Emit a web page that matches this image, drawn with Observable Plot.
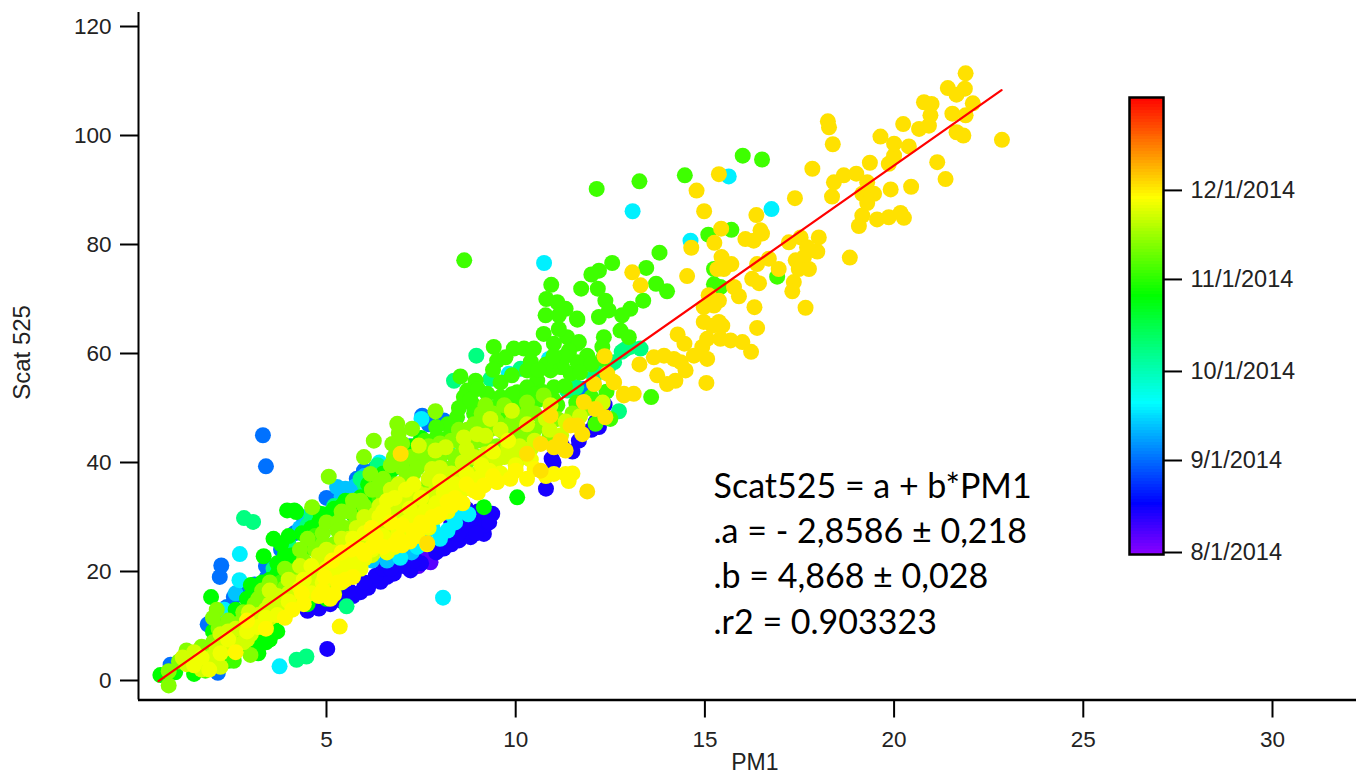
<!DOCTYPE html>
<html><head><meta charset="utf-8">
<script src="https://cdn.jsdelivr.net/npm/d3@7"></script>
<script src="https://cdn.jsdelivr.net/npm/@observablehq/plot@0.6"></script>
<style>
html,body{margin:0;padding:0;background:#fff;overflow:hidden;width:1356px;height:780px}
#wrap{position:relative;width:1356px;height:780px}
#wrap svg{display:block;background:transparent}
#bar{position:absolute;left:1100px;top:85px}
</style></head><body><div id="wrap"><div id="main"></div><div id="bar"></div></div>
<script>
// [PM1, Scat525] pairs, grouped by the date their colour encodes
const aug06 = [[7.75,21.7],[7.43,21],[7.6,22.3],[7.15,20.8],[12.2,49.2]];
const aug14 = [[5.02,5.8],[4.5,12.8],[4.8,13.2],[5.1,14],[5.4,14.6],[5.7,15.5],[5.9,16.2],[6.1,17],[6.43,18.1],[6.6,19],[6.78,19.6],[7.04,21],[7.22,20.2],[7.5,21.5],[7.9,23.5],[8.1,24.2],[8.3,25],[8.5,25.7],[8.81,26.3],[8.72,29.4],[9.16,26.9],[9.38,30.6],[9.1,30],[8.9,28],[8.6,28],[8.4,27],[8.1,26.5],[7.9,25],[9.0,31],[10.95,40.7],[10.8,35.2],[11.23,43],[11.67,44],[12.11,47.4],[12.35,50.6],[11.0,40],[11.5,42],[12.0,46],[8.7,31.5],[8.3,29],[6.3,19.2],[5.6,16.5],[6.9,22],[7.3,23],[6.5,20.5],[5.3,15.5],[6.0,18],[6.7,20.5],[7.3,22],[8.0,25.2],[8.5,27],[9.2,28.5],[8.95,27],[9.3,29],[4.9,14.5],[4.6,14],[10.9,38],[12.2,46.5]];
const sep01 = [[3.32,45],[3.4,39.3],[2.22,21.1],[2.18,19],[1.86,10.3],[2.13,1.4],[0.88,2.9],[1.2,4],[1.6,2.5],[3.43,19],[3.1,17.6],[2.55,15.3],[2.37,13.5],[2.9,16],[4.15,27],[4.4,28.8],[4.7,31],[5.0,33.5],[5.99,38.5],[6.3,39],[6.6,38],[7.53,48.6],[8.1,47.7],[8.4,47.5],[7.7,47],[5.3,34],[5.8,37],[4.55,29.8],[3.8,24],[3.4,21],[6.9,40.5],[7.2,43],[8.6,45],[9.3,46.5],[9.6,49],[9.9,51],[10.3,52],[11.8,53.5]];
const sep12 = [[5.28,35.5],[5.5,35.2],[5.75,35.6],[5.4,33.8],[6.0,37.5],[6.8,39],[7.0,24],[7.3,25],[6.5,24],[6.2,22],[6.6,22],[7.25,23.5],[4.3,28],[4.45,30],[2.6,16],[2.35,12.5],[8.6,44],[6.9,23]];
const sep18 = [[7.51,48],[6.4,40],[2.71,23.2],[2.7,18.4],[3.76,2.6],[8.08,15.2],[2.3,13],[7.4,24.5],[7.6,26],[8.0,26],[8.2,27.5],[8.4,29],[8.6,31],[8.75,30.5],[6.95,22.5],[9.82,56.3],[10.75,76.6],[10.88,59],[13.09,86.1],[14.62,80.7],[15.63,92.5],[16.76,86.5],[1.9,6],[7.8,28],[8.3,30.5]];
const oct08 = [[2.82,29.8],[3.06,29.1],[4.21,3.8],[4.47,4.4],[5.53,13.6],[8.96,59.6],[8.37,55],[9.33,55.3],[10.13,57.2],[12.73,49.4],[13.3,60.9],[13.03,61.2],[12.8,60.3],[12.6,58.4],[12.24,56.9],[12.07,55.7],[11.6,53.8],[11.36,53.2],[12.9,60.8],[12.45,57.5],[6.0,36],[5.6,33],[5.9,37],[6.3,38],[4.6,30],[4.9,27],[4.5,28.5],[5.2,32],[4.0,25],[3.6,20.5],[8.7,45],[9.5,47],[8.2,42],[6.35,39.5]];
const oct26 = [[0.61,1],[1.0,1.5],[1.5,1.2],[1.9,2.5],[2.1,4],[2.4,3.6],[2.9,7.5],[3.2,7],[3.5,7.5],[3.2,5],[3.34,22.8],[1.95,15.3],[3.6,26],[3.8,25],[4.0,26.5],[3.9,23],[4.0,21],[3.7,21.5],[3.3,18],[3.0,17.5],[3.5,18.5],[2.9,15],[2.6,13],[4.15,31.2],[3.96,31.2],[4.2,30.9],[4.84,30.6],[5.2,31.5],[5.5,33],[5.9,33.6],[5.3,30],[4.6,28],[4.35,27],[2.3,5.5],[2.7,6],[3.3,9.5],[3.55,10],[3.7,9],[6.1,36],[6.5,38],[10.04,33.6],[9.16,31.8],[5.2,16],[5.0,15],[4.5,14],[4.4,24],[4.1,23],[4.8,29],[5.0,30.5],[5.4,32],[5.7,30.5],[5.95,32],[6.1,34],[6.4,35.5],[6.7,38.5],[7.0,40.5],[7.3,43],[7.5,44.5],[7.1,42],[6.2,33],[4.6,24.5],[3.4,16],[3.0,14],[3.7,19.5],[2.5,11],[2.2,10],[2.0,9],[1.7,5],[2.4,5],[3.4,7],[3.1,6]];
const nov03 = [[8.64,77.1],[16.0,96.3],[16.51,95.6],[14.47,92.7],[13.27,91.6],[12.14,90.2],[15.09,81.8],[15.7,82.7],[13.8,78.5],[12.55,76.6],[12.2,75.2],[12.0,74.5],[13.45,75.7],[13.71,72.8],[14.0,71.4],[11.73,71.9],[12.17,71.9],[15.24,75.5],[15.24,72.7],[15.41,72.2],[16.91,74.1],[13.03,68.2],[13.37,69.7],[12.81,67],[12.37,69.7],[12.46,67.9],[12.2,66.7],[11.62,66.4],[11.32,68.2],[12.77,64.2],[12.99,63],[12.33,63],[12.29,61.2],[11.89,59.6],[11.62,61.8],[11.36,63],[11.4,59.9],[11.23,57.5],[11.45,56.3],[13.58,52],[10.94,72.6],[10.81,70],[11.1,69.4],[11.63,66.2],[10.79,67],[11.14,67],[10.74,63.6],[11.14,64.5],[11.67,62.1],[11.41,60.5],[11.01,61.8],[9.42,61.2],[9.95,60.9],[10.22,60.9],[10.48,60.9],[9.51,58.7],[9.73,59.3],[11.18,57.5],[11.63,58.4],[10.3,56.9],[8.54,55.8],[8.94,55],[9.6,54.7],[10.57,55],[10.92,56.9],[8.72,53.2],[9.25,52.6],[8.63,52],[8.85,50.8],[9.6,52],[10.04,52.9],[10.3,53.8],[11.01,53.8],[8.45,48.3],[12.11,47.1],[12.5,48],[8.2,47],[8.9,49],[9.4,50],[10.0,50.5],[10.6,51.5],[11.1,50.5],[9.0,46],[7.9,44.5],[7.6,44],[6.9,42],[7.2,39],[6.4,33],[6.8,36],[4.7,26.5],[3.8,18],[3.3,13],[1.8,1.8],[2.55,3.6],[7.5,41],[7.9,46.5],[8.2,44.5],[8.5,50],[8.8,51.5],[9.2,48.5],[9.6,48.5],[10.2,50],[10.7,53],[11.3,54],[8.0,43],[9.9,52.5],[10.8,58],[11.3,59.5],[10.4,58.5],[9.9,56],[9.4,57],[10.6,57],[12.0,58],[12.3,59],[11.0,59.5],[11.7,56.5],[11.0,51.5],[11.6,51],[12.0,52],[12.4,53],[10.5,52.5],[9.0,53.5]];
const nov12 = [[0.83,1.7],[1.1,3.5],[1.4,4.5],[1.3,5.5],[1.7,6.2],[2.0,7],[2.3,6.5],[2.5,8],[2.4,11],[2.1,13],[2.0,11.5],[2.7,10.5],[2.8,12.5],[3.1,14],[3.3,16.5],[3.6,14.5],[3.9,17],[4.1,20],[4.4,22],[4.7,24],[4.5,26],[4.9,27],[5.2,25],[5.0,29],[5.3,29],[5.6,31],[5.06,37.4],[5.9,33],[6.2,35],[6.5,37],[7.88,49.4],[6.87,47.1],[6.91,45.4],[6.25,44],[5.99,41],[6.52,36.4],[6.16,37.9],[6.74,43.4],[6.78,41],[7.22,41],[7.26,46.2],[7.0,39],[7.3,38],[7.7,43],[7.6,40],[8.0,41],[8.3,44],[8.5,46],[8.72,46],[8.9,47],[9.1,47],[9.4,49],[8.1,39],[8.4,41],[8.8,43],[9.2,44],[7.7,36],[8.2,37],[8.7,40],[9.5,47.5],[10.0,48],[10.5,49],[9.9,46],[10.2,45],[9.0,41],[9.5,43],[10.0,44],[10.5,46],[9.4,39.5],[10.74,52.3],[2.99,4.7],[0.83,-0.9],[4.62,31.8],[3.05,11.5],[2.15,9.5],[4.85,22],[5.5,28],[5.3,27.5],[5.8,29.5],[6.0,32],[6.3,31],[6.5,34],[6.8,35],[7.1,37],[7.4,39],[7.7,40],[8.0,43.5],[8.3,39],[8.6,43],[9.0,44],[9.3,46],[9.7,45.5],[7.0,43.5],[7.5,42],[6.7,39.5],[6.4,36],[5.4,31],[5.7,33],[4.9,25],[4.3,24],[3.9,20.5],[3.5,18],[3.2,15],[9.1,49],[9.9,47.5],[10.3,49],[10.7,47],[11.1,48],[11.5,49],[11.9,50],[10.9,45],[9.7,50.5],[10.3,51],[9.2,50.5]];
const nov22 = [[1.3,3],[1.7,2],[1.9,3.5],[1.2,4.2],[1.5,5.2],[2.1,6],[2.2,2.5],[2.5,5.8],[2.8,7],[2.2,8.5],[2.6,9.5],[2.4,9],[3.0,10],[3.2,12],[2.95,12.5],[3.4,13],[3.7,15.5],[3.5,16.5],[4.0,18.5],[4.2,15.5],[3.8,12.5],[4.4,16],[4.6,19],[4.3,21],[4.8,20],[5.1,22],[5.0,24],[4.7,17],[5.3,20],[5.5,23],[5.4,26],[5.7,24.5],[5.8,28],[6.1,26],[6.0,30],[6.3,29],[6.4,32],[6.6,27],[6.9,30],[6.7,33],[7.0,32],[7.2,35],[7.4,33],[6.9,36],[7.7,32],[7.9,35],[7.6,30],[8.2,33],[8.5,37],[8.0,39],[8.9,36],[8.7,42.5],[8.98,45.2],[9.2,44.9],[9.33,48],[8.63,44.6],[7.88,42.2],[8.15,42.8],[7.44,43.1],[7.79,38.8],[9.7,41],[10.1,43],[10.3,47],[10.8,48],[9.9,49.5],[9.6,46],[10.92,50.5],[11.32,47.5],[9.0,38],[9.5,36.5],[5.6,21],[5.2,17.5],[6.2,23],[6.6,25],[3.3,10.5],[3.5,14],[4.0,16],[4.5,20],[4.8,23],[5.2,23.5],[5.6,26],[5.9,26],[6.2,27],[6.5,28.5],[6.8,31],[7.1,33.5],[7.4,34.5],[7.7,37],[8.0,37],[8.3,38],[8.6,40],[8.9,41],[9.2,41.5],[9.5,40.5],[9.8,43],[6.3,30.5],[6.7,35],[7.3,31],[7.6,34],[8.1,36],[8.4,34.5],[5.5,25],[4.9,21.5],[4.2,18],[3.7,13.5],[2.9,7.5],[2.5,7],[2.0,4.5],[1.4,3.5],[3.0,8.5],[3.5,11.5],[10.2,41],[10.5,44],[10.9,46],[11.2,45],[9.9,42],[10.4,42.5],[12.3,51],[11.7,48.5]];
const nov26 = [[1.5,2.8],[1.9,2],[1.7,4.2],[2.2,5],[2.4,7.5],[2.9,9],[3.2,9.8],[3.4,11.5],[3.7,12],[4.0,14.5],[4.3,17],[4.6,16],[4.9,18],[4.6,21],[5.0,20.5],[5.4,18],[5.3,22],[5.6,21.5],[5.9,20.5],[5.7,26],[6.0,27],[6.2,24],[6.5,26.5],[6.8,24.5],[6.4,30],[6.9,27],[7.1,29],[7.4,30],[7.2,31.5],[7.7,28],[7.5,33.5],[7.9,30],[8.2,31],[7.1,35],[8.1,34.5],[8.4,36],[8.7,38],[9.1,39.5],[8.5,33.5],[9.4,42],[9.8,44],[8.0,36.5],[7.3,36],[6.6,33],[6.2,28],[5.8,23],[5.1,19.5],[4.4,18.5],[5.2,20.5],[5.5,20],[5.8,21.5],[6.0,22.3],[6.3,25.5],[6.6,23.5],[7.0,26.5],[7.3,28],[7.6,31],[7.9,32.5],[8.3,34],[8.6,35],[9.0,37],[9.3,38.5],[9.6,38],[10.0,39.5],[10.4,40.5],[6.5,31],[6.8,33.5]];
const nov29 = [[5.35,9.9],[2.6,5.2],[2.9,11],[3.4,9.5],[3.9,11.5],[4.1,13],[4.4,14],[4.8,15.5],[5.1,15],[4.9,16.5],[5.3,18],[5.5,18.5],[5.7,19],[5.15,22],[5.4,23.5],[5.65,24],[5.9,24],[6.2,24.5],[6.5,24.5],[6.8,25],[7.2,25.5],[7.66,25],[7.66,28.4],[7.0,24.8],[6.9,26],[7.3,27.5],[6.3,26.5],[7.0,28.5],[7.5,29],[8.0,30.5],[8.3,32],[8.6,32.5],[8.89,34.9],[9.16,35.8],[9.51,36.4],[9.86,37],[10.3,37],[11.01,37.9],[11.32,37.9],[6.2,28],[6.7,29],[5.2,15.8],[4.95,19],[4.35,16],[7.4,26.5],[6.0,23.2],[11.5,38],[11.4,36.6],[9.0,34.5],[8.2,32.8],[10.0,38.5],[10.5,38.8],[10.8,37.5],[9.4,37.5],[8.7,36],[8.4,33.5],[7.8,30]];
const dec02 = [[6.96,41.6],[10.66,38.5],[11.89,34.7],[12.35,59.5],[12.07,54.4],[12.42,56.3],[12.6,54.7],[12.86,52.3],[13.12,52.6],[11.8,51.1],[10.92,48.6],[12.37,48.3],[12.11,49.8],[11.45,46.8],[11.63,46.8],[11.76,45.2],[10.66,43.4],[11.18,44],[11.01,42.8],[11.32,42.2],[10.3,41.6],[12.59,54.8],[12.86,52.6],[13.27,58],[14.18,59],[13.92,59.6],[13.65,59.3],[14.36,58.4],[14.49,56.9],[13.74,56],[14.22,55],[14.0,54.4],[15.04,54.6],[14.28,63.5],[14.46,61.8],[15.06,62.7],[14.93,61.2],[15.41,62.7],[15.68,62.4],[15.99,62.1],[16.22,60.3],[14.71,59.6],[15.06,59],[14.97,65.8],[15.37,65.8],[15.2,65.1],[15.46,65.1],[16.38,64.7],[16.31,68.5],[14.97,68.5],[15.24,68.8],[15.1,70.7],[15.37,69.7],[15.77,72.2],[15.9,70.5],[16.25,73.7],[16.43,72.9],[14.53,74.2],[17.35,73.1],[17.31,71.4],[17.66,68.4],[15.44,77.7],[15.7,76.4],[15.33,75.5],[15.5,75.5],[16.38,76.4],[16.69,77.4],[16.95,75.5],[17.22,80.4],[17.53,81.3],[18.01,81.3],[17.97,78.7],[17.7,79.5],[17.4,77.1],[17.62,77.7],[17.75,75.5],[17.48,75.5],[18.83,77.6],[13.08,74.9],[13.3,72.5],[14.64,79.4],[15.43,82.9],[15.25,80.3],[16.47,82.6],[16.07,81],[16.29,80.7],[16.51,82],[16.36,85.4],[14.98,86.1],[17.38,88.5],[14.78,89.9],[15.37,92.9],[17.84,93.9],[18.25,102.6],[18.28,101.5],[18.38,98.4],[19,93],[18.67,92.7],[18.41,91.4],[18.36,88.8],[19.29,91.4],[19.47,89.3],[19.16,89.3],[19.29,87.6],[19.16,85.3],[19.07,83.4],[19.55,84.6],[19.86,85],[20.17,85.8],[20.26,84.9],[19.91,90.1],[20.45,90.6],[21.36,92],[21.14,95.1],[19.36,95],[19.86,94.8],[20,96.3],[20,98.5],[20.39,98],[19.64,99.8],[20.24,102.1],[20.66,101.2],[20.92,101.8],[20.96,103.7],[20.79,106.1],[20.99,105.8],[21.42,108.7],[21.87,108.6],[21.65,107.5],[21.89,111.4],[22.08,105.9],[21.54,104],[21.89,103.7],[21.65,100.6],[21.83,100],[22.85,99.2],[7.66,25.2]];

const groupDates = ["2014-08-06","2014-08-14","2014-09-01","2014-09-12","2014-09-18","2014-10-08","2014-10-26","2014-11-03","2014-11-12","2014-11-22","2014-11-26","2014-11-29","2014-12-02"];
const groupPoints = [aug06,aug14,sep01,sep12,sep18,oct08,oct26,nov03,nov12,nov22,nov26,nov29,dec02];

const rainbowDates = ["2014-08-01","2014-08-17","2014-09-20","2014-10-26","2014-11-28","2015-01-01"];
const rainbowColors = ["#8000ff","#0000ff","#00ffff","#00ff00","#ffff00","#ff0000"];
const legendTicks = ["2014-08-01","2014-09-01","2014-10-01","2014-11-01","2014-12-01"];
const xTicks = [5,10,15,20,25,30];
const yTicks = [0,20,40,60,80,100,120];
const fitA = -2.8586, fitB = 4.868;
const fitX = [0.56,22.84];
const fitLines = ["Scat525 = a + b*PM1",".a = - 2,8586 ± 0,218",".b = 4,868 ± 0,028",".r2 = 0.903323"];
const fitLineY = [35.4,27.2,18.9,10.5];

const ms = s => +new Date(s);
const colorOpt = {type:"linear", domain:rainbowDates.map(ms), range:rainbowColors, interpolate:"rgb"};
const rows = groupPoints.flatMap((pts,i)=>pts.map(([x,y])=>({x,y,t:ms(groupDates[i])})));
const xDom = [0.032,32.22], yDom = [-3.58,122.57];
const F = "'Liberation Sans',Arial,sans-serif";

document.getElementById("main").append(Plot.plot({
  width:1356,height:780,marginLeft:138,marginRight:0,marginTop:12,marginBottom:80.5,
  style:{fontFamily:F,background:"transparent",color:"#222"},
  x:{domain:xDom,label:null},y:{domain:yDom,label:null},color:colorOpt,
  marks:[
    Plot.dot(rows,{x:"x",y:"y",r:8,fill:"t",stroke:null}),
    Plot.line(fitX.map(x=>({x,y:fitA+fitB*x})),{x:"x",y:"y",stroke:"#ff0000",strokeWidth:2.2}),
    Plot.ruleY([yDom[0]],{stroke:"#000",strokeWidth:2.5}),
    Plot.ruleX([xDom[0]],{stroke:"#000",strokeWidth:2}),
    Plot.axisX({ticks:xTicks,tickSize:18,tickPadding:13,fontSize:22.5,label:null,stroke:"#000",strokeWidth:2,strokeOpacity:1,tickFormat:d=>d}),
    Plot.axisY({ticks:yTicks,tickSize:18,tickPadding:9,fontSize:22.5,label:null,stroke:"#000",strokeWidth:2,strokeOpacity:1,tickFormat:d=>d}),
    Plot.text(["PM1"],{x:()=>16.32,frameAnchor:"bottom",dy:70,fontSize:23,fill:"#222"}),
    Plot.text(["Scat 525"],{y:()=>60.2,frameAnchor:"left",textAnchor:"middle",dx:-116,rotate:-90,fontSize:24,fill:"#222"}),
    Plot.text(fitLines,{x:()=>15.23,y:(d,i)=>fitLineY[i],text:d=>d,textAnchor:"start",fontSize:34,fontFamily:"Lato",fill:"#000"})
  ]
}));

const days = d3.utcDay.range(new Date("2014-07-31"),new Date("2015-01-03"));
document.getElementById("bar").append(Plot.plot({
  width:256,height:480,marginLeft:29,marginRight:193,marginTop:12,marginBottom:11,
  style:{fontFamily:F,background:"transparent",color:"#222"},
  x:{domain:[0,1],axis:null},
  y:{type:"utc",domain:[new Date(ms("2014-08-01")-0.67*864e5),new Date(ms("2014-12-01")+31.3*864e5)],label:null},
  color:colorOpt,
  marks:[
    Plot.rect(days,{x1:()=>0,x2:()=>1,y1:d=>d,y2:d=>d3.utcDay.offset(d,1),fill:d=>+d,shapeRendering:"crispEdges",clip:true}),
    Plot.frame({stroke:"#000",strokeWidth:2.5}),
    Plot.axisY({anchor:"right",ticks:legendTicks.map(s=>new Date(s)),tickSize:18,tickPadding:9,fontSize:23.5,label:null,stroke:"#000",strokeWidth:2,strokeOpacity:1,tickFormat:d3.utcFormat("%-m/%-d/%Y")})
  ]
}));
</script></body></html>
